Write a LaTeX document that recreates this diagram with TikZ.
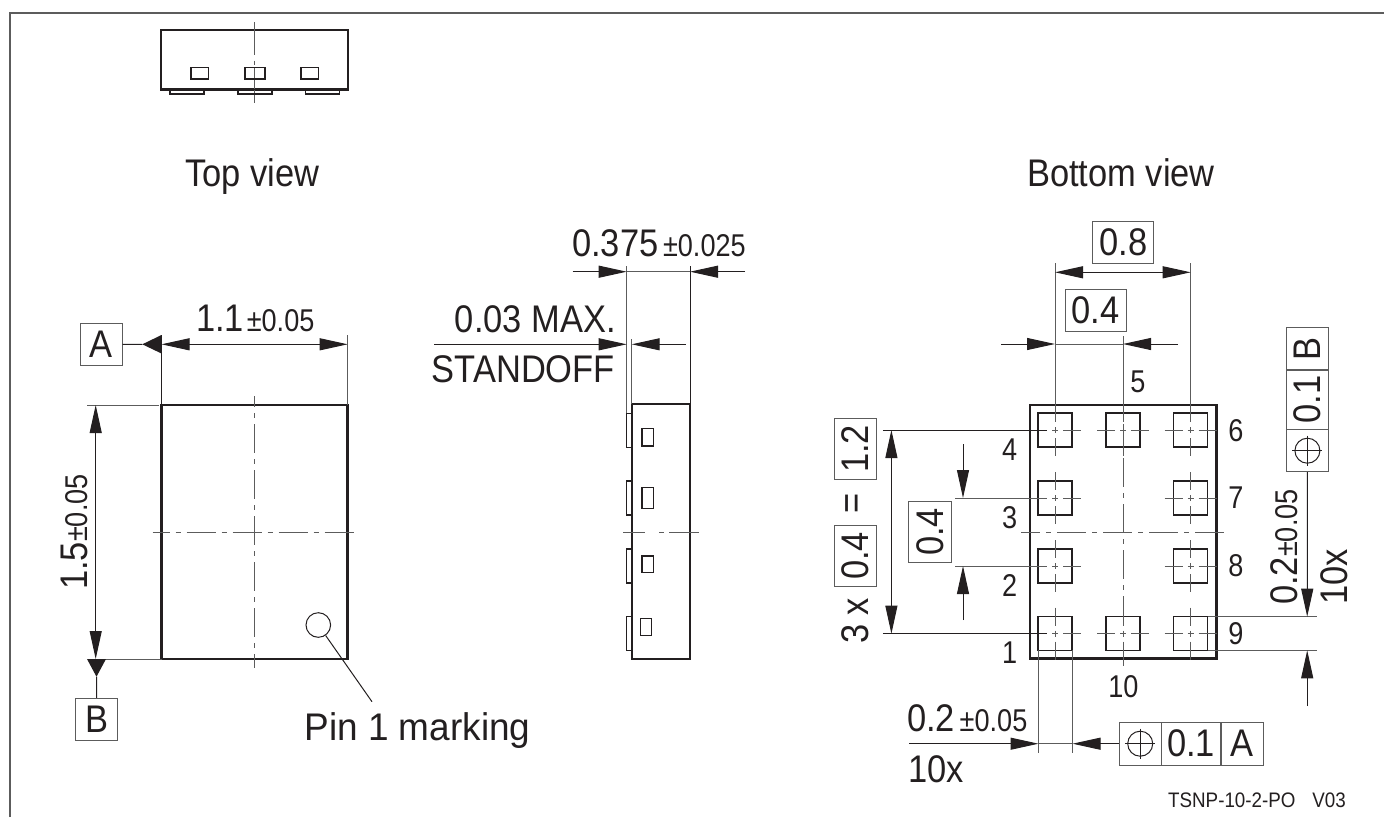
\documentclass[tikz,border=0pt]{standalone}
\usepackage{fontspec}
\setmainfont{Liberation Sans}
\newfontfamily\narrowfam[FakeStretch=0.895]{Liberation Sans}
\newfontfamily\pinfam[FakeStretch=0.96]{Liberation Sans}
\newfontfamily\tolfam[FakeStretch=0.86]{Liberation Sans}
\usetikzlibrary{arrows.meta}
\definecolor{ink}{HTML}{231F20}
\definecolor{axisgray}{HTML}{5C5C5C}
\newcommand\dimfont{\narrowfam\fontsize{38.5}{40}\selectfont}
\newcommand\tolfont{\tolfam\fontsize{31.5}{33}\selectfont}
\tikzset{
  outline/.style={draw=ink,line width=2.6pt},
  detail/.style={draw=ink,line width=1.5pt},
  thinline/.style={draw=ink,line width=1pt},
  axisline/.style={draw=axisgray,line width=1pt},
  axisdash/.style={axisline,dash pattern=on 29pt off 6pt on 5pt off 6pt},
  dimarrow/.style={thinline,-{Triangle[length=28pt,width=12pt,fill=ink]}},
  dimboth/.style={thinline,{Triangle[length=28pt,width=12pt,fill=ink]}-{Triangle[length=28pt,width=12pt,fill=ink]}},
  datum/.style={fill=ink,draw=none},
  dimtext/.style={font=\dimfont,text=ink,inner sep=0pt},
  toltext/.style={font=\tolfont,text=ink,inner sep=0pt},
  boxed/.style={draw=axisgray,line width=1pt,font=\dimfont,text=ink,inner sep=0pt,minimum width=#1},
  boxed/.default=42pt
}
\begin{document}
\begin{tikzpicture}[x=1pt,y=-1pt]
\useasboundingbox (0,0) rectangle (1384,817);
\draw[axisline,line width=1.8pt] (10,817) -- (10,13) -- (1384,13);

\draw[outline] (161,30) rectangle (348,89.5);
\draw[axisline] (254.5,22) -- (254.5,55) (254.5,60.5) -- (254.5,65) (254.5,68) -- (254.5,103);
\foreach \px/\pw in {191/17.5,245/20,301/17.5}
  \draw[detail] (\px,67.5) rectangle ++(\pw,11.5);
\foreach \px in {170,238,305.5}
  \draw[detail] (\px,89.5) rectangle ++(34,4.5);
\node[dimtext,anchor=base] (topview) at (252.5,186) {Top view};

\draw[outline] (161.5,405) rectangle (347.7,659);
\draw[axisdash,dash phase=18pt] (254.7,396) -- (254.7,668);
\draw[axisdash,dash phase=12pt] (152.5,532) -- (356.5,532);
\node[circle,thinline,minimum size=24.6pt,inner sep=0pt] (pinmark) at (318.3,625) {};
\coordinate (pinend) at (372,701.7);
\draw[thinline] (pinmark) -- (pinend);
\node[anchor=base,font=\pinfam\fontsize{38.5}{40}\selectfont,text=ink,inner sep=0pt] (pinlabel) at (417.5,740) {Pin 1 marking};

\node[boxed,minimum height=42.4pt] (datumA) at (101,344.5) {A};
\coordinate (widthL) at (161.5,344.3);
\coordinate (widthR) at (347.7,344.3);
\draw[datum] (142.3,344.3) -- (161.5,335) -- (161.5,353.5) -- cycle;
\draw[thinline] (datumA) -- (142.3,344.3);
\draw[dimboth] (widthL) -- (widthR);
\draw[thinline] (161.5,335) -- (161.5,405);
\draw[axisline] (347.7,335) -- (347.7,405);
\node[dimtext,anchor=base west] (widthlabel) at (196,331.5) {1.1\hspace{.07em}{\tolfont ±0.05}};

\node[boxed,minimum height=42.4pt] (datumB) at (96.7,719.5) {B};
\coordinate (heightT) at (95.7,405);
\coordinate (heightB) at (95.7,659);
\draw[axisline] (87.3,405) -- (159,405) (95.7,659) -- (161.5,659);
\draw[dimboth] (heightT) -- (heightB);
\draw[datum] (87,659) -- (106,659) -- (96.5,676.7) -- cycle;
\draw[thinline] (96.5,676.7) -- (datumB);
\node[dimtext,anchor=base west,rotate=90] (heightlabel) at (87,590) {1.5{\tolfont ±0.05}};

\draw[outline,line width=1.9pt] (631.7,404.3) rectangle (690,658.7);
\foreach \py in {413.3,481,549,616.7}
  \draw[detail,line width=1.1pt] (626.7,\py) rectangle ++(5,34);
\draw[detail] (642,428.3) rectangle (653.3,446);
\draw[detail] (642,487.7) rectangle (653.3,508.3);
\draw[detail] (642,556) rectangle (653.3,572.7);
\draw[detail] (640.3,618.3) rectangle (651.7,635.3);
\draw[axisline] (623,532) -- (645,532) (659,532) -- (664,532) (669,532) -- (698.7,532);
\coordinate (sideL) at (626.7,271.7);
\coordinate (sideR) at (690,271.7);
\draw[axisline] (626.7,266) -- (626.7,413) (631.7,339) -- (631.7,404);
\draw[thinline] (690,266) -- (690,404);
\draw[axisline] (sideL) -- (sideR);
\draw[dimarrow] (572.7,271.7) -- (sideL);
\draw[dimarrow] (745,271.7) -- (sideR);
\node[dimtext,anchor=base west] (sidelabel) at (572,256) {0.375\hspace{.12em}{\tolfont ±0.025}};
\draw[dimarrow] (434.3,344.3) -- (626.7,344.3);
\draw[dimarrow] (685.7,344.3) -- (631.7,344.3);
\node[dimtext,anchor=base east] (maxlabel) at (616,332) {0.03 MAX.};
\node[dimtext,anchor=base east] (standoff) at (615,382) {STANDOFF};

\node[dimtext,anchor=base] (bottomview) at (1121,186) {Bottom view};
\draw[outline] (1030,405) rectangle (1216.5,658.7);
\draw[axisdash,dash phase=10pt] (1021,532) -- (1225,532);
\draw[axisdash,dash phase=12pt] (1123,424) -- (1123,666);
\foreach \px/\py in {1055/430,1123/430,1190.7/430,1055/498,1190.7/498,1055/566,1190.7/566,1055/633.7,1123/633.7,1190.7/633.7}{
  \draw[detail] ({\px-17},{\py-17}) rectangle ++(34,34);
  \draw[axisline] ({\px-26},\py) -- ({\px-8},\py) ({\px-3},\py) -- ({\px+3},\py) ({\px+8},\py) -- ({\px+26},\py);
  \draw[axisline] (\px,{\py-26}) -- (\px,{\py-8}) (\px,{\py-3}) -- (\px,{\py+3}) (\px,{\py+8}) -- (\px,{\py+26});
}
\draw[axisline] (1055,263) -- (1055,422) (1190.7,263) -- (1190.7,422) (1123,336) -- (1123,422);
\node[boxed=61pt,minimum height=42pt] (pitchwide) at (1123.4,242.3) {0.8};
\coordinate (wideL) at (1055,272.3);
\coordinate (wideR) at (1190.7,272.3);
\draw[dimboth] (wideL) -- (wideR);
\node[boxed=61pt,minimum height=42.5pt] (pitchnarrow) at (1095.5,310.7) {0.4};
\coordinate (narrowL) at (1055,344);
\coordinate (narrowR) at (1123,344);
\draw[axisline] (narrowL) -- (narrowR);
\draw[dimarrow] (1001,344) -- (narrowL);
\draw[dimarrow] (1178,344) -- (narrowR);

\draw[thinline] (882.8,430) -- (1047,430) (882.8,633.7) -- (1047,633.7);
\draw[axisline] (955,498) -- (1047,498) (955,566) -- (1047,566);
\coordinate (rowT) at (891.4,430);
\coordinate (rowB) at (891.4,633.7);
\draw[dimboth] (rowT) -- (rowB);
\draw[dimarrow] (963,444) -- (963,498);
\draw[dimarrow] (963,620) -- (963,566);
\node[boxed=60.6pt,minimum height=42.5pt,rotate=90] (rowbox) at (930.2,532) {0.4};
\node[boxed=60.6pt,minimum height=42.5pt,rotate=90] (spanbox) at (855.3,449) {1.2};
\node[dimtext,rotate=90] (eqsign) at (855.3,503) {=};
\node[boxed=60.6pt,minimum height=42.5pt,rotate=90] (unitbox) at (855.3,555.8) {0.4};
\node[dimtext,anchor=base west,rotate=90] (threex) at (868,644) {3 x};

\node[toltext] (pin1) at (1009.7,652.7) {1};
\node[toltext] (pin2) at (1009.7,585) {2};
\node[toltext] (pin3) at (1009.7,518) {3};
\node[toltext] (pin4) at (1009.7,450) {4};
\node[toltext] (pin5) at (1138,381.5) {5};
\node[toltext] (pin6) at (1236,430.5) {6};
\node[toltext] (pin7) at (1236,498) {7};
\node[toltext] (pin8) at (1236,566) {8};
\node[toltext] (pin9) at (1236,634) {9};
\node[toltext] (pin10) at (1123.4,686.7) {10};

\node[boxed,minimum height=42.3pt,rotate=90] (stackB) at (1307.4,348.9) {B};
\node[boxed=59.3pt,minimum height=42.3pt,rotate=90] (stackval) at (1307.4,399.7) {0.1};
\node[boxed,minimum height=42.3pt,rotate=90] (stacksym) at (1307.4,450.7) {};
\node[circle,thinline,minimum size=25pt,inner sep=0pt] (stackcircle) at (stacksym) {};
\draw[thinline] (1292.4,450.7) -- (1322.4,450.7) (1307.4,435.7) -- (1307.4,465.7);
\coordinate (padT) at (1307.2,616.7);
\coordinate (padB) at (1307.2,650.3);
\draw[axisline] (1207.7,616.7) -- (1316.6,616.7) (1207.7,650.3) -- (1316.6,650.3);
\draw[dimarrow] (stacksym.west) -- (padT);
\draw[dimarrow] (1307.2,706) -- (padB);
\node[dimtext,anchor=base west,rotate=90] (padlabel) at (1297.6,605) {0.2{\tolfont ±0.05}};
\node[dimtext,anchor=base west,rotate=90] (tenxv) at (1347.6,605) {10x};

\draw[axisline] (1038.5,650) -- (1038.5,752.7) (1072.5,650) -- (1072.5,752.7);
\node[boxed,minimum height=42.7pt] (rowsym) at (1140.2,743.7) {};
\node[boxed=59.3pt,minimum height=42.7pt] (rowval) at (1191,743.7) {0.1};
\node[boxed,minimum height=42.7pt] (rowA) at (1242,743.7) {A};
\node[circle,thinline,minimum size=25pt,inner sep=0pt] (rowcircle) at (rowsym) {};
\draw[thinline] (1125.2,743.7) -- (1155.2,743.7) (1140.2,728.7) -- (1140.2,758.7);
\coordinate (padL) at (1038.5,743.7);
\coordinate (padR) at (1072.5,743.7);
\draw[axisline] (padL) -- (padR);
\draw[dimarrow] (909,743.7) -- (padL);
\draw[dimarrow] (rowsym.west) -- (padR);
\node[dimtext,anchor=base west] (padwidth) at (907,731.7) {0.2\hspace{.12em}{\tolfont ±0.05}};
\node[dimtext,anchor=base west] (tenxh) at (908,782.7) {10x};
\node[font=\narrowfam\fontsize{21}{23}\selectfont,text=ink,inner sep=0pt,anchor=base east] (partcode) at (1346,807.5) {TSNP-10-2-PO\hspace{.8em}V03};
\end{tikzpicture}
\end{document}
